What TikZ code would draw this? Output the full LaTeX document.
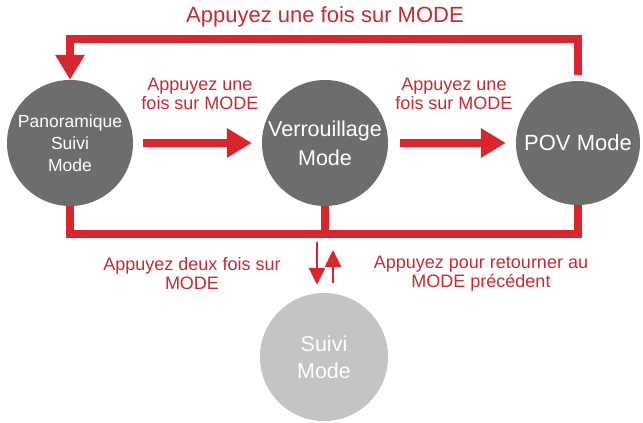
\documentclass[tikz,border=0pt]{standalone}
\usepackage{fontspec}
\setmainfont{Liberation Sans}
\usetikzlibrary{arrows.meta}

\definecolor{modered}{HTML}{D9252D}
\definecolor{labelred}{HTML}{C62A32}
\definecolor{modegray}{HTML}{6D6D6D}
\definecolor{suivigray}{HTML}{C4C4C4}

\tikzset{
  modecircle/.style={circle, fill=modegray, text=white, minimum size=126pt,
    inner sep=0pt, align=center},
  redlabel/.style={text=labelred, align=center, font=\fontsize{18}{19}\selectfont},
  bigline/.style={draw=modered, line width=8.5pt},
  bigarrow/.style={bigline, -{Triangle[width=28pt,length=25pt]}},
  smallarrow/.style={draw=modered, line width=2.6pt, -{Triangle[width=16pt,length=17pt]}},
}

\begin{document}
\begin{tikzpicture}[x=1pt,y=-1pt]
\useasboundingbox[fill=white] (0,0) rectangle (643,423);

% the four modes
\node[modecircle, font=\fontsize{17.5}{22}\selectfont] (pano) at (70,143) {Panoramique\\Suivi\\Mode};
\node[modecircle, font=\fontsize{21.5}{29}\selectfont] (verr) at (325,143) {Verrouillage\\Mode};
\node[modecircle, minimum size=124pt, font=\fontsize{22}{27}\selectfont] (pov) at (578,143) {POV Mode};
\node[modecircle, fill=suivigray, minimum size=128pt, font=\fontsize{21.5}{27}\selectfont] (suivi) at (324,357) {Suivi\\Mode};

\coordinate (ctop) at (0,39);
\coordinate (cbot) at (0,234);
\coordinate (dtop) at (317,242);
\coordinate (utop) at (333,250);

% top loop back
\draw[bigarrow, shorten <=6pt] (pov.north) |- (pano.north |- ctop) -- (pano.north);
\node[redlabel, font=\fontsize{22}{24}\selectfont] (lbtop) at (325,17) {Appuyez une fois sur MODE};

% forward steps
\draw[bigarrow, shorten <=10pt, shorten >=10pt] (pano.east) -- (verr.west);
\draw[bigarrow, shorten <=12pt, shorten >=10pt] (verr.east) -- (pov.west);
\node[redlabel] (lbone) at (200,94) {Appuyez une\\fois sur MODE};
\node[redlabel] (lbtwo) at (454,94) {Appuyez une\\fois sur MODE};

% bottom bar
\draw[bigline] (pano.south) -- (pano.south |- cbot) -- (pov.south |- cbot) -- (pov.south);
\draw[bigline] (verr.south) -- (verr.south |- cbot);

\draw[smallarrow, shorten >=8pt] (dtop) -- (dtop |- suivi.north);
\draw[smallarrow, shorten <=10pt] (utop |- suivi.north) -- (utop);

\node[redlabel] (lbdown) at (192,274) {Appuyez deux fois sur\\MODE};
\node[redlabel] (lbup) at (481,274) {Appuyez pour retourner au\\MODE précédent};

\end{tikzpicture}
\end{document}
